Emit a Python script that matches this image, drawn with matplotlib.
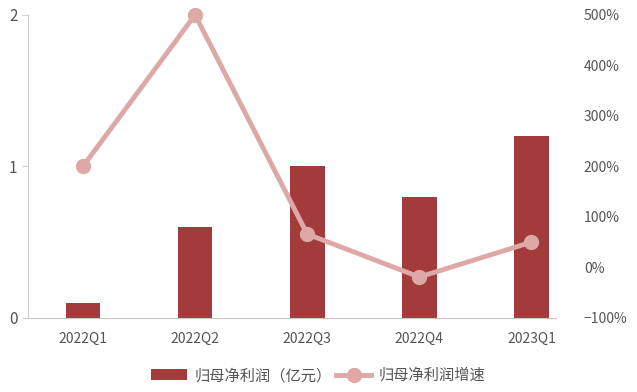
import matplotlib.pyplot as plt
import numpy as np
from matplotlib.ticker import FuncFormatter

plt.rcParams['font.family'] = ['Noto Sans CJK SC', 'DejaVu Sans']

quarters = ["2022Q1", "2022Q2", "2022Q3", "2022Q4", "2023Q1"]
profit = [0.1, 0.6, 1.0, 0.8, 1.2]
growth = [200, 500, 66, -19, 50]

bar_color = "#A33B3B"
line_color = "#DDA8A6"
grey = "#555555"

fig = plt.figure(figsize=(6.37, 3.92), dpi=100)
ax = fig.add_axes([0.044, 0.189, 0.829, 0.773])
x = np.arange(len(quarters))

ax.bar(x, profit, width=0.31, color=bar_color, label="归母净利润（亿元）", zorder=2)
ax.set_ylim(0, 2)
ax.set_yticks([0, 1, 2])
ax.set_xlim(-0.49, 4.22)
ax.set_xticks(x)
ax.set_xticklabels(quarters)
for s in ["top", "right"]:
    ax.spines[s].set_visible(False)
ax.spines["left"].set_color("#d0d0d0")
ax.spines["bottom"].set_color("#c8c8c8")
ax.tick_params(axis="y", colors="#d0d0d0", labelcolor=grey, labelsize=11, length=4)
ax.tick_params(axis="x", length=0, labelcolor=grey, labelsize=10, pad=10)

ax2 = ax.twinx()
ax2.plot(x, growth, color=line_color, lw=3.5, marker="o", ms=10, label="归母净利润增速",
         zorder=3, clip_on=False)
ax2.set_ylim(-100, 500)
ax2.set_yticks(range(-100, 501, 100))
ax2.yaxis.set_major_formatter(FuncFormatter(lambda v, p: f"{v:.0f}%".replace("-", "−")))
for s in ["top", "right", "left", "bottom"]:
    ax2.spines[s].set_visible(False)
ax2.tick_params(axis="y", length=0, labelcolor=grey, labelsize=10, pad=20)

h1, l1 = ax.get_legend_handles_labels()
h2, l2 = ax2.get_legend_handles_labels()
fig.legend(h1 + h2, l1 + l2, loc="lower center", bbox_to_anchor=(0.5, -0.015), ncol=2,
           frameon=False, fontsize=11, labelcolor=grey, handlelength=2.3,
           columnspacing=0.3, handletextpad=0.5)

fig.savefig("out.png", dpi=100)
